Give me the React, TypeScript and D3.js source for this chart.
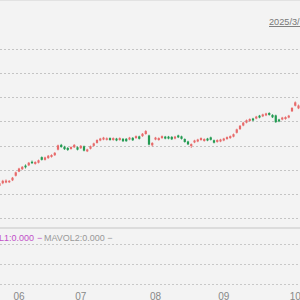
import { useMemo } from "react";
import * as d3 from "d3";

// daily candles, late May → early Oct (prices)
const OPEN = [
  8.33, 8.44, 8.47, 8.48, 8.56, 8.75, 8.92, 9.02, 9.17, 9.18, 9.33, 9.24, 9.29, 9.52, 9.41, 9.48,
  9.53, 9.6, 9.83, 10.03, 9.95, 9.9, 9.86, 9.93, 9.93, 9.89, 9.97, 9.76, 9.87, 9.99, 10.11, 10.21,
  10.25, 10.24, 10.31, 10.23, 10.29, 10.23, 10.28, 10.28, 10.25, 10.32, 10.31, 10.38, 10.39, 10.48,
  10.42, 10.01, 10.25, 10.23, 10.31, 10.37, 10.37, 10.36, 10.29, 10.42, 10.38, 10.27, 10.17, 9.98,
  10.13, 10.17, 10.23, 10.19, 10.29, 10.34, 10.22, 10.15, 10.17, 10.21, 10.27, 10.31, 10.37, 10.53,
  10.68, 10.83, 10.95, 11.02, 11.12, 11.12, 11.24, 11.21, 11.25, 11.35, 11.27, 11.25, 11.08, 11.08,
  11.1, 11.16, 11.42, 11.65, 11.54,
];
const CLOSE = [
  8.44, 8.54, 8.55, 8.54, 8.67, 8.89, 9.05, 9.12, 9.1, 9.29, 9.27, 9.32, 9.39, 9.41, 9.51, 9.58,
  9.61, 9.7, 10.01, 9.94, 9.85, 9.82, 9.94, 10.03, 9.83, 9.99, 9.79, 9.84, 9.97, 10.09, 10.23, 10.29,
  10.33, 10.3, 10.23, 10.31, 10.21, 10.31, 10.18, 10.18, 10.33, 10.22, 10.39, 10.28, 10.49, 10.6,
  10.04, 10.11, 10.33, 10.31, 10.39, 10.29, 10.29, 10.26, 10.37, 10.34, 10.28, 10.15, 10.05, 10.06,
  10.21, 10.25, 10.31, 10.27, 10.21, 10.24, 10.12, 10.23, 10.25, 10.29, 10.35, 10.39, 10.47, 10.67,
  10.82, 10.95, 11.05, 11.1, 11.04, 11.2, 11.16, 11.29, 11.33, 11.27, 11.17, 10.97, 11.0, 11.16,
  11.18, 11.24, 11.56, 11.79, 11.66,
];
const HIGH = [
  8.48, 8.58, 8.6, 8.57, 8.7, 8.92, 9.08, 9.15, 9.22, 9.32, 9.38, 9.35, 9.42, 9.55, 9.54, 9.61,
  9.64, 9.73, 10.04, 10.07, 9.99, 9.94, 9.97, 10.06, 9.96, 10.02, 10.0, 9.87, 10.0, 10.12, 10.26, 10.32,
  10.36, 10.34, 10.34, 10.34, 10.32, 10.34, 10.31, 10.31, 10.36, 10.35, 10.42, 10.41, 10.52, 10.64,
  10.45, 10.14, 10.36, 10.34, 10.42, 10.4, 10.4, 10.39, 10.4, 10.45, 10.41, 10.3, 10.2, 10.09,
  10.24, 10.28, 10.34, 10.3, 10.32, 10.37, 10.25, 10.26, 10.28, 10.32, 10.38, 10.42, 10.5, 10.7,
  10.85, 10.98, 11.08, 11.13, 11.15, 11.23, 11.27, 11.32, 11.36, 11.38, 11.3, 11.28, 11.11, 11.19,
  11.21, 11.27, 11.59, 11.83, 11.7,
];
const LOW = [
  8.3, 8.4, 8.44, 8.45, 8.53, 8.72, 8.9, 8.99, 9.05, 9.15, 9.24, 9.21, 9.26, 9.38, 9.38, 9.45,
  9.5, 9.57, 9.8, 9.91, 9.82, 9.78, 9.83, 9.9, 9.8, 9.86, 9.76, 9.73, 9.84, 9.96, 10.08, 10.18,
  10.22, 10.21, 10.2, 10.2, 10.18, 10.2, 10.15, 10.16, 10.22, 10.19, 10.28, 10.25, 10.36, 10.45,
  10.01, 9.96, 10.22, 10.2, 10.28, 10.26, 10.26, 10.23, 10.26, 10.31, 10.25, 10.12, 10.02, 9.9,
  10.1, 10.14, 10.2, 10.16, 10.18, 10.21, 10.09, 10.12, 10.14, 10.18, 10.24, 10.28, 10.34, 10.5,
  10.65, 10.8, 10.92, 10.99, 11.01, 11.09, 11.13, 11.18, 11.22, 11.24, 11.14, 10.94, 10.97, 11.05,
  11.07, 11.13, 11.39, 11.62, 11.51,
];

const PRICE_TICKS = [7, 8, 9, 10, 11, 12, 13, 14];
const VOL_TICKS = [1, 2, 3];
const MONTHS = [
  { idx: 6, label: "06" },
  { idx: 25, label: "07" },
  { idx: 48, label: "08" },
  { idx: 69, label: "09" },
  { idx: 91, label: "10" },
];

const UP = "#e76a6a";
const DOWN = "#239a52";
const FONT = "'Liberation Sans', Arial, sans-serif";

export default function App() {
  const W = 300;
  const H = 300;

  const x = useMemo(() => d3.scaleLinear().domain([0, OPEN.length - 1]).range([-0.5, 298.5]), []);
  const y = useMemo(() => d3.scaleLinear().domain([7, 14]).range([218, 49]), []);
  const yv = useMemo(() => d3.scaleLinear().domain([0, 3]).range([304, 244]), []);

  return (
    <div style={{ position: "fixed", left: 0, top: 0, width: W, height: H }}>
      <svg width={W} height={H} style={{ display: "block", fontFamily: FONT }}>
        <rect width={W} height={H} fill="#f3f3f3" />
        <line x1={0} x2={W} y1={0.5} y2={0.5} stroke="#e2e2e2" />

        {/* price grid */}
        {PRICE_TICKS.map((t) => (
          <line key={t} x1={0} x2={W} y1={Math.round(y(t)) + 0.5} y2={Math.round(y(t)) + 0.5}
            stroke="#c4c4c4" strokeDasharray="2,2" />
        ))}

        {/* candles */}
        {OPEN.map((o, i) => {
          const c = CLOSE[i];
          const up = c >= o;
          const col = up ? UP : DOWN;
          const cx = x(i);
          const top = y(Math.max(o, c));
          const bot = y(Math.min(o, c));
          return (
            <g key={i}>
              <line x1={cx} x2={cx} y1={y(HIGH[i])} y2={y(LOW[i])} stroke={col} strokeWidth={0.8} />
              <rect x={cx - 1.1} y={top} width={2.2} height={Math.max(1, bot - top)} fill={col} />
            </g>
          );
        })}

        <text x={269} y={25} fontSize={9.2} fill="#777" textDecoration="underline">2025/3/31</text>

        {/* pane separator */}
        <line x1={0} x2={W} y1={228} y2={228} stroke="#d4d4d4" strokeWidth={1.5} />

        {/* volume pane */}
        {VOL_TICKS.map((t) => (
          <line key={t} x1={0} x2={W} y1={Math.round(yv(t)) + 0.5} y2={Math.round(yv(t)) + 0.5}
            stroke="#c8c8c8" strokeDasharray="2,2" />
        ))}
        <text x={34} y={241} fontSize={9} fill="#c14fc8" textAnchor="end">MAVOL1:0.000</text>
        <text x={37} y={241} fontSize={9} fill="#c14fc8">−</text>
        <text x={44} y={241} fontSize={9} fill="#999">MAVOL2:0.000 −</text>

        {/* x axis */}
        {MONTHS.map((m) => (
          <text key={m.label} x={x(m.idx)} y={300} fontSize={10} fill="#888" textAnchor="middle">
            {m.label}
          </text>
        ))}
      </svg>
    </div>
  );
}
